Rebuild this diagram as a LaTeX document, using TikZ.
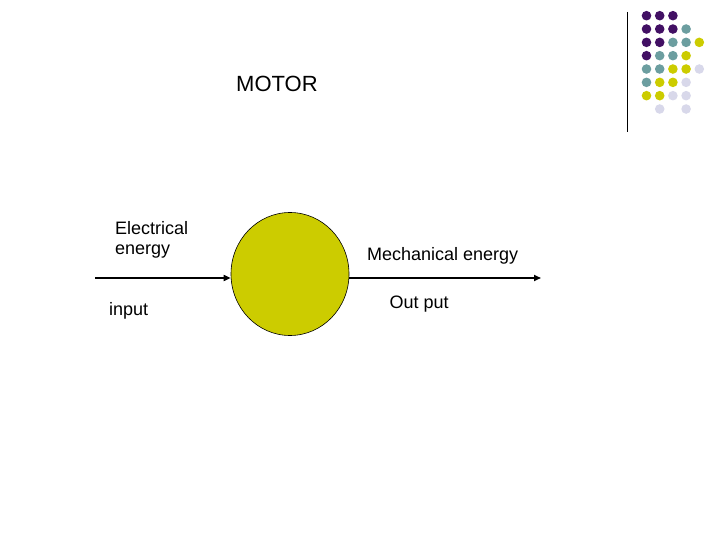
\documentclass[tikz,border=0pt]{standalone}
\usepackage{fontspec}
\setmainfont{Liberation Sans}
\definecolor{motoryellow}{RGB}{204,204,0}
\definecolor{dotpurple}{RGB}{66,16,100}
\definecolor{dotteal}{RGB}{108,158,160}
\definecolor{dotyellow}{RGB}{204,204,0}
\definecolor{dotlilac}{RGB}{216,216,234}
\usetikzlibrary{arrows.meta,shapes.geometric}

\begin{document}
\begin{tikzpicture}[x=1pt, y=-1pt, every node/.style={inner sep=0pt},
    txt/.style={font=\fontsize{18}{19.5}\selectfont, anchor=base west, align=left},
    flow/.style={-{Triangle[length=7pt,width=6pt]}, line width=1.6pt}]
        \useasboundingbox (0,0) rectangle (720,540);

        % Corner decoration
        \draw[line width=0.9pt] (627,12) -- (627,132);
        \foreach \c/\r/\col in {0/0/dotpurple, 1/0/dotpurple, 2/0/dotpurple,
            0/1/dotpurple, 1/1/dotpurple, 2/1/dotpurple, 3/1/dotteal,
            0/2/dotpurple, 1/2/dotpurple, 2/2/dotteal, 3/2/dotteal, 4/2/dotyellow,
            0/3/dotpurple, 1/3/dotteal, 2/3/dotteal, 3/3/dotyellow,
            0/4/dotteal, 1/4/dotteal, 2/4/dotyellow, 3/4/dotyellow, 4/4/dotlilac,
            0/5/dotteal, 1/5/dotyellow, 2/5/dotyellow, 3/5/dotlilac,
            0/6/dotyellow, 1/6/dotyellow, 2/6/dotlilac, 3/6/dotlilac,
            1/7/dotlilac, 3/7/dotlilac}
            \fill[\col] ({646.5+13.2*\c},{15.7+13.33*\r}) circle (4.8pt);

        % Title
        \node[font=\fontsize{22}{26}\selectfont, anchor=base west] (title) at (236,92) {MOTOR};

        % Motor
        \node[ellipse, draw, line width=0.6pt, fill=motoryellow,
            minimum width=118pt, minimum height=123pt] (motor) at (290,274) {};

        % Input and output
        \coordinate (in) at (95,278);
        \coordinate (out) at (541,278);
        \draw[flow] (in) -- (in -| motor.west);
        \draw[flow] (motor.east |- out) -- (out);

        \node[txt] (elec) at (115,254.5) {Electrical\\energy};
        \node[txt] (inp) at (109,315) {input};
        \node[txt] (mech) at (367,260.5) {Mechanical energy};
        \node[txt] (outp) at (389.5,308) {Out put};
\end{tikzpicture}
\end{document}
